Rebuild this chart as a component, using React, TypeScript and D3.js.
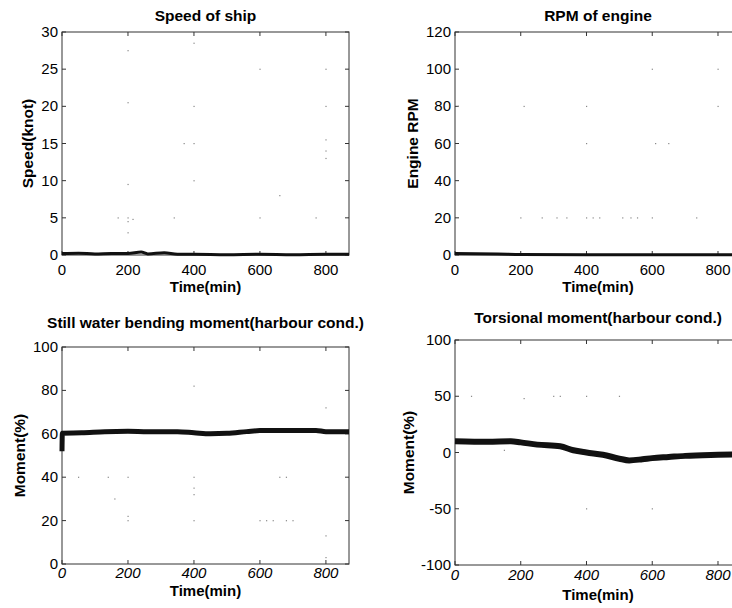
import React, { useEffect, useRef } from 'react';
import * as d3 from 'd3';

// time axis (minutes)
const timeDomain = [0, 870];
const timeTicks = [0, 200, 400, 600, 800];

// y ticks
const speedTicks = [0, 5, 10, 15, 20, 25, 30];
const rpmTicks = [0, 20, 40, 60, 80, 100, 120];
const bendingTicks = [0, 20, 40, 60, 80, 100];
const torsionTicks = [-100, -50, 0, 50, 100];

// series: [time, value]
const speedSeries = [
    [0, 0.2], [50, 0.25], [100, 0.15], [150, 0.2], [200, 0.2], [240, 0.4], [260, 0.15],
    [310, 0.3], [350, 0.1], [400, 0.1], [500, 0.05], [600, 0.1], [700, 0.05], [800, 0.1], [870, 0.1]
];
const rpmSeries = [
    [0, 0.8], [130, 0.6], [200, 0.3], [400, 0.2], [600, 0.1], [800, 0.1], [870, 0.1]
];
const bendingSeries = [
    [0, 52], [1, 60.3], [60, 60.5], [130, 61], [200, 61.2], [260, 61], [350, 61], [400, 60.5],
    [450, 60], [500, 60.2], [560, 61], [600, 61.5], [700, 61.5], [770, 61.5], [800, 61], [870, 61]
];
const torsionSeries = [
    [0, 10], [100, 9.5], [170, 10], [200, 9], [250, 7], [320, 5.5], [360, 2], [400, 0], [450, -2],
    [500, -5.5], [530, -7], [570, -6], [600, -5], [650, -4], [700, -3], [800, -2], [870, -1.5]
];

// faint scan specks
const speedSpecks = [
    [200, 27.5], [200, 20.5], [400, 28.5], [600, 25], [800, 25], [400, 20], [800, 20], [370, 15],
    [400, 15], [800, 15.5], [800, 14], [800, 13], [400, 10], [200, 9.5], [660, 8], [170, 5],
    [200, 5], [200, 4.5], [215, 4.8], [340, 5], [600, 5], [770, 5], [200, 3]
];
const rpmSpecks = [
    [600, 100], [800, 100], [10, 80], [210, 80], [400, 80], [800, 80], [400, 60], [610, 60],
    [650, 60], [200, 20], [265, 20], [310, 20], [340, 20], [400, 20], [420, 20], [440, 20],
    [510, 20], [535, 20], [555, 20], [600, 20], [735, 20]
];
const bendingSpecks = [
    [400, 82], [50, 40], [140, 40], [200, 40], [400, 40], [400, 35], [400, 32], [160, 30],
    [200, 22], [200, 20], [400, 20], [600, 20], [620, 20], [640, 20], [680, 20], [700, 20],
    [660, 40], [680, 40], [800, 72], [800, 13], [800, 3]
];
const torsionSpecks = [
    [50, 50], [210, 48], [300, 50], [320, 50], [400, 50], [500, 50], [400, -50], [600, -50], [150, 2]
];

const panels = [
    {
        title: 'Speed of ship', ylabel: 'Speed(knot)', yDomain: [0, 30], yTicks: speedTicks,
        series: speedSeries, specks: speedSpecks, lw: 3, italicX: false,
        box: { left: 62, right: 349, top: 32, bottom: 255 },
        titleY: 21, ylabelX: 33, xTickY: 275, xLabelY: 292
    },
    {
        title: 'RPM of engine', ylabel: 'Engine RPM', yDomain: [0, 120], yTicks: rpmTicks,
        series: rpmSeries, specks: rpmSpecks, lw: 3, italicX: false,
        box: { left: 455, right: 741, top: 32, bottom: 255 },
        titleY: 21, ylabelX: 418, xTickY: 275, xLabelY: 292
    },
    {
        title: 'Still water bending moment(harbour cond.)', ylabel: 'Moment(%)', yDomain: [0, 100],
        yTicks: bendingTicks, series: bendingSeries, specks: bendingSpecks, lw: 5, italicX: true,
        box: { left: 62, right: 349, top: 347, bottom: 564 },
        titleY: 328, ylabelX: 25, xTickY: 578, xLabelY: 596
    },
    {
        title: 'Torsional moment(harbour cond.)', ylabel: 'Moment(%)', yDomain: [-100, 100],
        yTicks: torsionTicks, series: torsionSeries, specks: torsionSpecks, lw: 6, italicX: true,
        box: { left: 455, right: 741, top: 340, bottom: 565 },
        titleY: 323, ylabelX: 414, xTickY: 580, xLabelY: 600
    }
];

export default function App() {
    const svgRef = useRef(null);

    useEffect(() => {
        const svg = d3.select(svgRef.current);
        svg.selectAll('*').remove();
        const font = 'Liberation Sans, Arial, Helvetica, sans-serif';

        panels.forEach(p => {
            const { left, right, top, bottom } = p.box;
            const x = d3.scaleLinear().domain(timeDomain).range([left, right]);
            const y = d3.scaleLinear().domain(p.yDomain).range([bottom, top]);
            const g = svg.append('g');

            // frame
            g.append('rect')
                .attr('x', left).attr('y', top)
                .attr('width', right - left).attr('height', bottom - top)
                .attr('fill', 'none').attr('stroke', '#333').attr('stroke-width', 1);

            // inward ticks
            timeTicks.forEach(t => {
                g.append('line').attr('x1', x(t)).attr('x2', x(t)).attr('y1', bottom).attr('y2', bottom - 4)
                    .attr('stroke', '#333');
                g.append('line').attr('x1', x(t)).attr('x2', x(t)).attr('y1', top).attr('y2', top + 4)
                    .attr('stroke', '#333');
            });
            p.yTicks.forEach(v => {
                g.append('line').attr('x1', left).attr('x2', left + 4).attr('y1', y(v)).attr('y2', y(v))
                    .attr('stroke', '#333');
                g.append('line').attr('x1', right).attr('x2', right - 4).attr('y1', y(v)).attr('y2', y(v))
                    .attr('stroke', '#333');
            });

            // tick labels
            g.selectAll('.xt').data(timeTicks).enter().append('text')
                .attr('x', d => x(d)).attr('y', p.xTickY)
                .attr('text-anchor', 'middle')
                .style('font', `${p.italicX ? 'italic ' : ''}15px ${font}`)
                .text(d => d);
            g.selectAll('.yt').data(p.yTicks).enter().append('text')
                .attr('x', left - 4).attr('y', d => y(d) + 5)
                .attr('text-anchor', 'end')
                .style('font', `15px ${font}`)
                .text(d => d);

            // specks
            g.selectAll('.sp').data(p.specks).enter().append('rect')
                .attr('x', d => x(d[0]) - 0.5).attr('y', d => y(d[1]) - 0.5)
                .attr('width', 1.2).attr('height', 1.2)
                .attr('fill', '#888');

            // series
            const line = d3.line().x(d => x(d[0])).y(d => y(d[1])).curve(d3.curveMonotoneX);
            g.append('path')
                .datum(p.series)
                .attr('d', line)
                .attr('fill', 'none')
                .attr('stroke', '#111')
                .attr('stroke-width', p.lw);

            // titles
            const cx = (left + right) / 2;
            g.append('text')
                .attr('x', cx).attr('y', p.titleY)
                .attr('text-anchor', 'middle')
                .style('font', `bold 15.5px ${font}`)
                .text(p.title);
            g.append('text')
                .attr('x', cx).attr('y', p.xLabelY)
                .attr('text-anchor', 'middle')
                .style('font', `bold 15px ${font}`)
                .text('Time(min)');
            const cy = (top + bottom) / 2;
            g.append('text')
                .attr('transform', `translate(${p.ylabelX}, ${cy}) rotate(-90)`)
                .attr('text-anchor', 'middle')
                .style('font', `bold 15.5px ${font}`)
                .text(p.ylabel);
        });
    }, []);

    return (
        <svg ref={svgRef} width={732} height={608}
            style={{ position: 'absolute', left: 0, top: 0, background: '#fff' }} />
    );
}
